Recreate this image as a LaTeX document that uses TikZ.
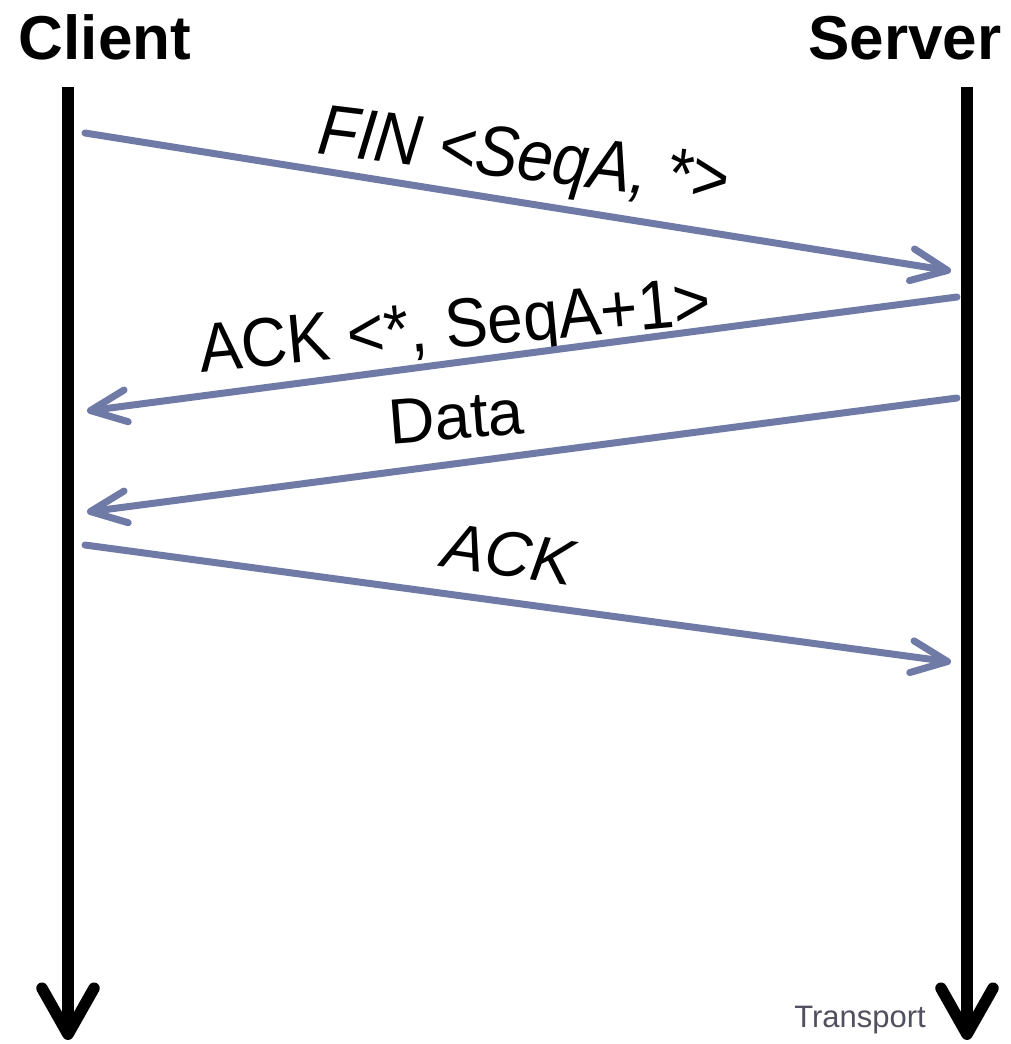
\documentclass[tikz,border=0pt]{standalone}
\usepackage{fontspec}
\setmainfont{Liberation Sans}
\usepackage{tikz}
\usetikzlibrary{arrows.meta}
\definecolor{msgblue}{RGB}{111,123,166}
\definecolor{notegray}{RGB}{80,80,96}

\begin{document}
\begin{tikzpicture}[
    x=1pt, y=-1pt,
    party/.style={anchor=base, font=\fontsize{62}{70}\selectfont\bfseries},
    lbl/.style={anchor=base, inner sep=0pt, font=\fontsize{64}{72}\selectfont},
    note/.style={anchor=base, inner sep=0pt, text=notegray, font=\fontsize{31}{36}\selectfont},
    lifeline/.style={line width=11.5pt, -{Straight Barb[length=46pt, width=52pt, line cap=round, line join=round]}},
    msg/.style={msgblue, line width=7pt, line cap=round, -{Straight Barb[length=36pt, width=32pt, line cap=round, line join=round]}}
]
\useasboundingbox (0,0) rectangle (1011,1044);

% Nodes
\node[party] (client) at (105,59) {Client};
\node[party] (server) at (905,59) {Server};

\coordinate (ctop) at (68,87);
\coordinate (cbot) at (68,1040);
\coordinate (stop) at (967,87);
\coordinate (sbot) at (967,1040);

\coordinate (c1) at (85,133);
\coordinate (s1) at (951,271);
\coordinate (s2) at (957,297);
\coordinate (c2) at (87,411);
\coordinate (s3) at (957,398);
\coordinate (c3) at (87,512);
\coordinate (c4) at (85,545);
\coordinate (s4) at (951,662);

\node[lbl, rotate=-7, yscale=1.12] (finlbl) at (521,179) {\textit{FIN <SeqA, *>}};
\node[lbl, rotate=5.4, yscale=1.08] (acklbl) at (457,348) {ACK <*, SeqA+1>};
\node[lbl, rotate=4.6] (datalbl) at (458,439) {Data};
\node[lbl, rotate=-8.5] (lastlbl) at (507,576) {\textit{ACK}};
\node[note] (transport) at (860,1027) {Transport};

% Arrows
\draw[lifeline] (ctop) -- (cbot);
\draw[lifeline] (stop) -- (sbot);
\draw[msg] (c1) -- (s1);
\draw[msg] (s2) -- (c2);
\draw[msg] (s3) -- (c3);
\draw[msg] (c4) -- (s4);

\end{tikzpicture}
\end{document}
